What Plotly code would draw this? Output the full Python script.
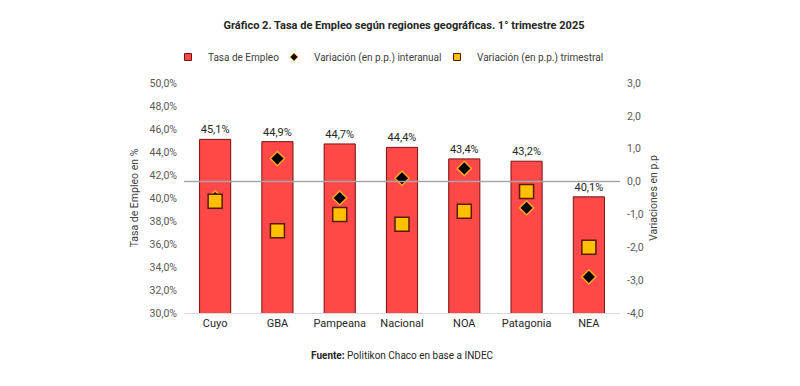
import plotly.graph_objects as go

regiones = ["Cuyo", "GBA", "Pampeana", "Nacional", "NOA", "Patagonia", "NEA"]
tasa_empleo = [45.1, 44.9, 44.7, 44.4, 43.4, 43.2, 40.1]
var_interanual = [-0.5, 0.7, -0.5, 0.1, 0.4, -0.8, -2.9]
var_trimestral = [-0.6, -1.5, -1.0, -1.3, -0.9, -0.3, -2.0]
left_ticks = [30, 32, 34, 36, 38, 40, 42, 44, 46, 48, 50]
right_ticks = [-4, -3, -2, -1, 0, 1, 2, 3]

FONT = "Roboto"
TICKC = "#595959"
W, H = 792, 378  # page adds an 8px body margin around the figure

def fmt(v, suffix=""):
    return f"{v:.1f}".replace(".", ",") + suffix

fig = go.Figure()
fig.add_trace(go.Bar(
    x=regiones, y=tasa_empleo, name="Tasa de Empleo", showlegend=False,
    marker=dict(color="#FF4848", line=dict(color="#7A1010", width=1)),
    width=0.5,
    text=[fmt(v, "%") for v in tasa_empleo],
    textposition="outside", cliponaxis=False,
    textfont=dict(family=FONT, size=11, color="#262626"),
))
fig.add_trace(go.Scatter(
    x=regiones, y=var_interanual, yaxis="y2", mode="markers", showlegend=False,
    name="Variación (en p.p.) interanual",
    marker=dict(symbol="diamond", size=11, color="#000000",
                line=dict(color="#FFA51F", width=1.5)),
))
fig.add_trace(go.Scatter(
    x=regiones, y=var_trimestral, yaxis="y2", mode="markers", showlegend=False,
    name="Variación (en p.p.) trimestral",
    marker=dict(symbol="square", size=14, color="#FFC000",
                line=dict(color="#5A1A00", width=1.5)),
))

# legend-only entries with small symbols, each in its own legend box
legend_items = [
    ("Tasa de Empleo", "square", "#FF4848", "#7A1010", 7, "legend"),
    ("Variación (en p.p.) interanual", "diamond", "#000000", "#FFA51F", 6, "legend2"),
    ("Variación (en p.p.) trimestral", "square", "#FFC000", "#5A1A00", 7, "legend3"),
]
for nm, sym, col, lc, sz, lg in legend_items:
    fig.add_trace(go.Scatter(x=[None], y=[None], mode="markers", name=nm, legend=lg,
                             marker=dict(symbol=sym, size=sz, color=col, line=dict(color=lc, width=1))))

fig.add_shape(type="line", xref="paper", x0=0, x1=1, yref="y2", y0=0, y1=0,
              line=dict(color="#A6A6A6", width=1.5), layer="above")

def legend_box(xpx):
    return dict(orientation="h", x=xpx / W, xanchor="left", xref="container",
                y=1 - 49 / H, yanchor="middle", yref="container",
                font=dict(family=FONT, size=10, color="#404040"),
                itemwidth=30, bgcolor="rgba(0,0,0,0)")

fig.update_layout(
    width=W, height=H,
    margin=dict(l=176, r=180, t=75, b=73, autoexpand=False),
    paper_bgcolor="white", plot_bgcolor="white",
    font=dict(family=FONT, color=TICKC, size=11),
    showlegend=True,
    legend=legend_box(160),
    legend2=legend_box(266),
    legend3=legend_box(429),
    title=dict(text="<b>Gráfico 2. Tasa de Empleo según regiones geográficas. 1° trimestre 2025</b>",
               x=0.5, xanchor="center", y=1 - 17 / H, yanchor="middle",
               font=dict(family=FONT, size=11, color="#262626")),
    xaxis=dict(showline=True, linecolor="#D9D9D9", linewidth=1, showgrid=False,
               tickfont=dict(family=FONT, size=11, color="#262626"), ticks=""),
    yaxis=dict(range=[30, 50], tickvals=left_ticks, ticktext=[fmt(v, "%") for v in left_ticks],
               showgrid=False, zeroline=False, ticklabelstandoff=6,
               title=dict(text="Tasa de Empleo en %", font=dict(family=FONT, size=10.5, color="#404040"), standoff=8),
               tickfont=dict(family=FONT, size=10.5, color=TICKC)),
    yaxis2=dict(range=[-4, 3], tickvals=right_ticks, ticktext=[fmt(v) for v in right_ticks],
                overlaying="y", side="right", showgrid=False, zeroline=False, ticklabelstandoff=6,
                title=dict(text="Variaciones en p.p", font=dict(family=FONT, size=10.5, color="#404040"), standoff=6),
                tickfont=dict(family=FONT, size=10.5, color=TICKC)),
    annotations=[dict(text="<b>Fuente:</b> Politikon Chaco en base a INDEC", xref="paper", yref="paper",
                      x=0.5, y=1 - (347 - 75) / 230, xanchor="center", yanchor="middle",
                      showarrow=False, font=dict(family=FONT, size=10, color="#262626"))],
)

fig.write_html("out.html")
